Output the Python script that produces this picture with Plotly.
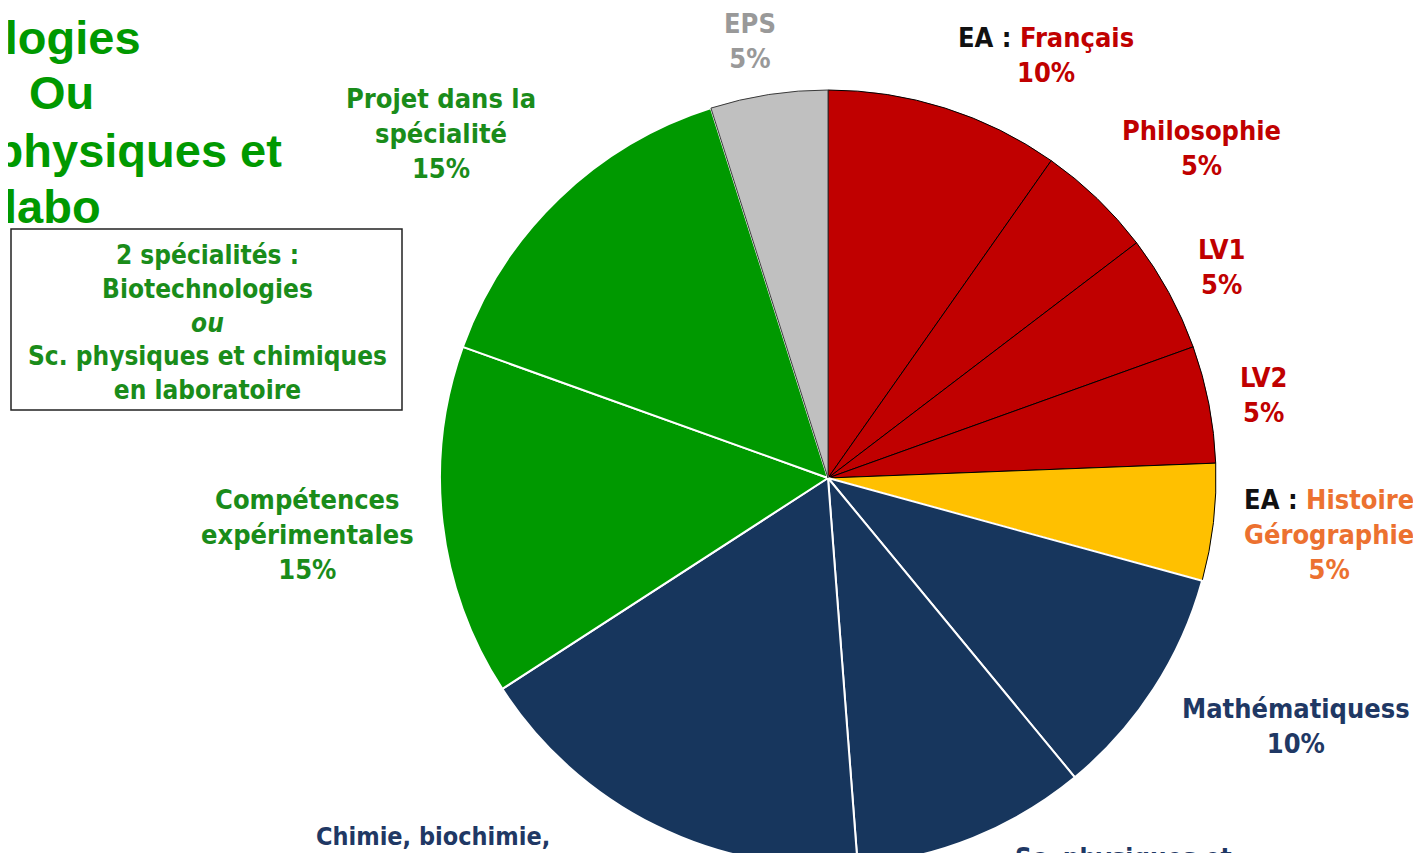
"""Répartition des coefficients - bac STL (camembert)."""
import plotly.graph_objects as go

W, H = 1421, 880
OFF = 8  # the page body margin shifts the figure by 8px

# slices, clockwise from 12 o'clock
subjects = ["Français", "Philosophie", "LV1", "LV2", "Histoire Gérographie",
            "Mathématiquess", "Sc. physiques et", "Chimie, biochimie,",
            "Compétences expérimentales", "Projet dans la spécialité", "EPS"]
weights = [10, 5, 5, 5, 5, 10, 10, 17.5, 15, 15, 5]
slice_colors = ["#c00000", "#c00000", "#c00000", "#c00000", "#ffc000",
                "#17365d", "#17365d", "#17365d", "#009900", "#009900", "#c0c0c0"]
edge_colors = ["#000000"] * 5 + ["#ffffff"] * 5 + ["#3a3a3a"]
edge_widths = [1] * 5 + [2] * 5 + [1]

title_lines = ["Biotechnologies", "Ou", "Sc. physiques et", "labo"]
box_lines = ["2 spécialités :", "Biotechnologies", "<i>ou</i>",
             "Sc. physiques et chimiques", "en laboratoire"]

RED = "#c00000"
GREEN = "#1a8c1a"
NAVY = "#1f3864"
ORANGE = "#ec7130"
GREY = "#999999"
LABEL_FONT = "DejaVu Sans Condensed, DejaVu Sans, sans-serif"


def fx(px):
    return (px - OFF) / W


def fy(py):
    return 1 - (py - OFF) / H


def pct(i):
    return f"{weights[i]:g}%"


# pie: centre (828, 478), radius 388 on screen; bottom runs off the page
cx, cy, rad = 828, 478, 388
fig = go.Figure(go.Pie(
    labels=subjects,
    values=weights,
    sort=False,
    direction="clockwise",
    rotation=0,
    textinfo="none",
    hoverinfo="label+value",
    marker=dict(colors=slice_colors, line=dict(color=edge_colors, width=edge_widths)),
    domain=dict(x=[fx(cx - rad), fx(cx + rad)], y=[fy(cy + rad), fy(cy - rad)]),
    showlegend=False,
))

ea = "<span style='color:#111111'>EA : </span>"
labels = [
    # text, centre x, middle y, colour, size
    (f"{subjects[10]}<br>{pct(10)}", 750, 41, GREY, 27),
    (f"{ea}{subjects[0]}<br>{pct(0)}", 1046, 55, RED, 27),
    (f"{subjects[1]}<br>{pct(1)}", 1201, 148, RED, 27),
    (f"{subjects[2]}<br>{pct(2)}", 1221, 267, RED, 27),
    (f"{subjects[3]}<br>{pct(3)}", 1263, 395, RED, 27),
    (f"{ea}Histoire<br>Gérographie<br>{pct(4)}", 1329, 534, ORANGE, 27),
    (f"{subjects[5]}<br>{pct(5)}", 1296, 726, NAVY, 27),
    (subjects[6], 1123, 858, NAVY, 26),
    (subjects[7], 433, 836, NAVY, 25),
    (f"Compétences<br>expérimentales<br>{pct(8)}", 307, 534, GREEN, 27),
    (f"Projet dans la<br>spécialité<br>{pct(9)}", 441, 133, GREEN, 27),
]
for text, x, y, col, size in labels:
    fig.add_annotation(text=text, x=fx(x), y=fy(y), xref="paper", yref="paper",
                       xanchor="center", yanchor="middle", showarrow=False,
                       font=dict(family=LABEL_FONT, size=size, color=col, weight="bold"))

# box with the two specialities
fig.add_shape(type="rect", xref="paper", yref="paper",
              x0=fx(11), x1=fx(402), y0=fy(410), y1=fy(229),
              line=dict(color="#222222", width=1.5), fillcolor="rgba(0,0,0,0)")
fig.add_annotation(text="<br>".join(box_lines), x=fx(207), y=fy(323),
                   xref="paper", yref="paper", xanchor="center", yanchor="middle",
                   showarrow=False,
                   font=dict(family=LABEL_FONT, size=26, color=GREEN, weight="bold"))

# big title, cut off on the left of the slide
title_pos = [(143, 37, "right"), (62, 93, "center"), (284, 150, "right"), (2, 207, "left")]
for line, (x, y, anchor) in zip(title_lines, title_pos):
    fig.add_annotation(text=line, x=fx(x), y=fy(y), xref="paper", yref="paper",
                       xanchor=anchor, yanchor="middle", showarrow=False,
                       font=dict(family="Liberation Sans, Arial, sans-serif", size=47,
                                 color="#009900", weight="bold"))

fig.update_layout(
    width=W, height=H,
    margin=dict(l=0, r=0, t=0, b=0),
    paper_bgcolor="#ffffff",
    plot_bgcolor="#ffffff",
)
fig.write_html("out.html")
